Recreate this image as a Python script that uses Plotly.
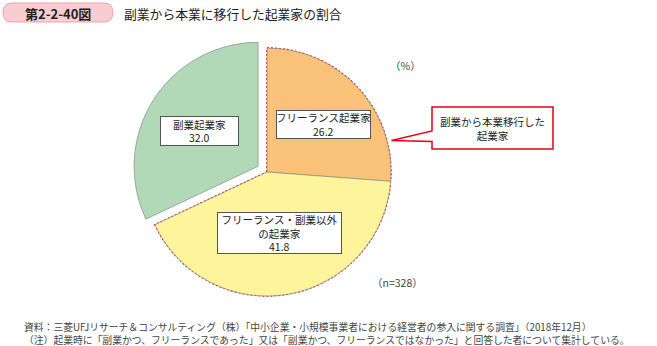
import math
import plotly.graph_objects as go

# ---- data ----
labels = ["フリーランス起業家", "フリーランス・副業以外の起業家", "副業起業家"]
values = [26.2, 41.8, 32.0]
colors = ["#f9c278", "#fdf49c", "#b1d8b7"]
box_texts = ["フリーランス起業家<br>26.2", "フリーランス・副業以外<br>の起業家<br>41.8", "副業起業家<br>32.0"]
title_tag = "第2-2-40図"
title_text = "副業から本業に移行した起業家の割合"
note1 = "資料：三菱UFJリサーチ＆コンサルティング（株）「中小企業・小規模事業者における経営者の参入に関する調査」（2018年12月）"
note2 = "（注）起業時に「副業かつ、フリーランスであった」又は「副業かつ、フリーランスではなかった」と回答した者について集計している。"
callout_text = "副業から本業移行した<br>起業家"
unit_text = "（%）"
n_text = "（n=328）"

W, H = 657, 346
FONT = "Noto Sans CJK JP"

# pie geometry (pixels)
cx, cy, r = 267, 172, 124
pull = 0.085
half = r * (1 + pull)

fig = go.Figure()
fig.add_trace(go.Pie(
    labels=labels, values=values, sort=False, direction="clockwise", rotation=0,
    marker=dict(colors=colors, line=dict(color="#7a7a7a", width=0.6)),
    pull=[0, 0, pull], textinfo="none", hoverinfo="skip", showlegend=False,
    domain=dict(x=[(cx - half) / W, (cx + half) / W],
                y=[1 - (cy + half) / H, 1 - (cy - half) / H]),
))

# red dotted outline around the first two slices (from data)
frac = (values[0] + values[1]) / sum(values)
n = 120
xs, ys = [cx], [cy]
for i in range(n + 1):
    th = 2 * math.pi * frac * i / n
    xs.append(cx + r * math.sin(th))
    ys.append(cy - r * math.cos(th))
xs.append(cx); ys.append(cy)
fig.add_trace(go.Scatter(x=xs, y=ys, mode="lines", hoverinfo="skip", showlegend=False,
                         line=dict(color="#e8141c", width=1.6, dash="2px,2px")))

# callout shape
fig.add_shape(type="path", xref="x", yref="y",
              path="M432,107 L553,107 L553,149 L432,149 L432,141.5 L391.5,140.5 L432,131 Z",
              line=dict(color="#e60012", width=1.5), fillcolor="white")

# title tag (rounded rect)
x0, x1, y0, y1, rr = 3, 113, 3, 22, 9
fig.add_shape(type="path", xref="x", yref="y",
              path=f"M{x0+rr},{y0} L{x1-rr},{y0} Q{x1},{y0} {x1},{(y0+y1)/2} Q{x1},{y1} {x1-rr},{y1} "
                   f"L{x0+rr},{y1} Q{x0},{y1} {x0},{(y0+y1)/2} Q{x0},{y0} {x0+rr},{y0} Z",
              line=dict(color="#eda3ae", width=1), fillcolor="#f8ccd3")

anns = []
def ann(x, y, text, size, color="#222", **kw):
    d = dict(x=x, y=y, xref="x", yref="y", text=text, showarrow=False,
             font=dict(family=FONT, size=size, color=color))
    d.update(kw)
    anns.append(d)

ann(58, 13, "<b>" + title_tag + "</b>", 13, "#222")
ann(122, 13, title_text, 12.8, "#222", xanchor="left")

box_geo = [(323.5, 124.5, 93, 27), (279.5, 233, 123, 40), (199.5, 131, 77, 28)]
for (bx, by, bw, bh), t in zip(box_geo, box_texts):
    ann(bx, by, t, 10.5, "#222", bgcolor="white", bordercolor="#555", borderwidth=1,
        borderpad=0, width=bw, height=bh)

ann(492.5, 128, callout_text, 10.5, "#222")
ann(405, 65, unit_text, 10.5, "#444")
ann(397, 282, n_text, 10.5, "#444")
ann(22, 333, note1 + "<br>" + note2, 9.8, "#444", xanchor="left", align="left")

fig.update_layout(
    width=W, height=H, margin=dict(l=0, r=0, t=0, b=0),
    paper_bgcolor="white", plot_bgcolor="rgba(0,0,0,0)",
    xaxis=dict(range=[0, W], visible=False, fixedrange=True),
    yaxis=dict(range=[H, 0], visible=False, fixedrange=True),
    annotations=anns, font=dict(family=FONT),
)
fig.write_html("out.html")
